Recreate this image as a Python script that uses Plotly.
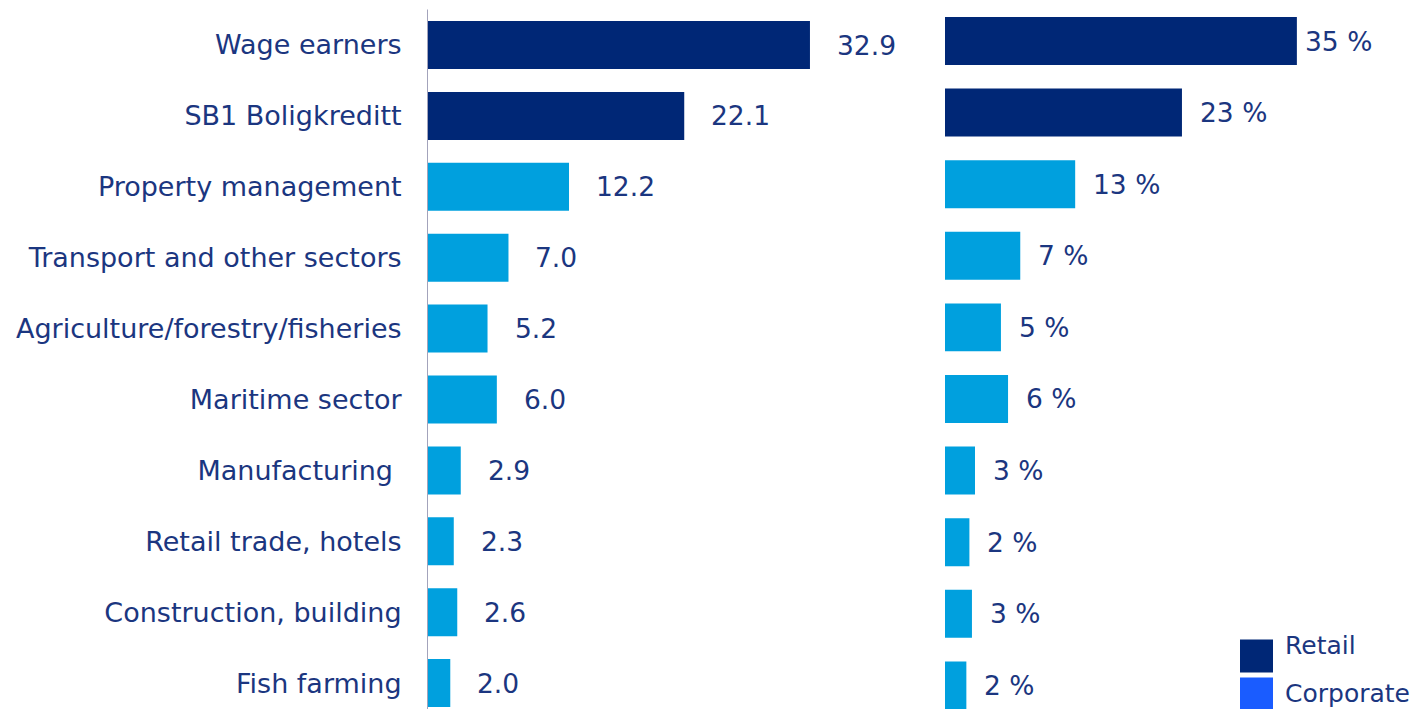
import plotly.graph_objects as go

categories = ["Wage earners", "SB1 Boligkreditt", "Property management",
              "Transport and other sectors", "Agriculture/forestry/fisheries",
              "Maritime sector", "Manufacturing\u00a0", "Retail trade, hotels",
              "Construction, building", "Fish farming"]
segments = ["Retail", "Retail", "Corporate", "Corporate", "Corporate",
            "Corporate", "Corporate", "Corporate", "Corporate", "Corporate"]
loans_bn = [32.9, 22.1, 12.2, 7.0, 5.2, 6.0, 2.9, 2.3, 2.6, 2.0]
share_pct = [34.6, 23.3, 12.8, 7.4, 5.5, 6.2, 2.95, 2.4, 2.65, 2.1]
share_labels = ["35 %", "23 %", "13 %", "7 %", "5 %", "6 %", "3 %", "2 %", "3 %", "2 %"]

NAVY = "#002776"
CYAN = "#00a0de"
LEG_CORP = "#1a5cff"
TXT = "#1b3680"
FONT = "DejaVu Sans"
seg_color = {"Retail": NAVY, "Corporate": CYAN}
colors = [seg_color[s] for s in segments]

# page body has an 8px margin: the figure is placed at (8, 8)
OFF = 8
W, H = 1420 - OFF, 709 - OFF


def px_x(p):
    return (p - OFF) / W


def px_y(p):
    return 1 - (p - OFF) / H


fig = go.Figure()
fig.add_trace(go.Bar(x=loans_bn, y=categories, orientation="h",
                     marker=dict(color=colors, line=dict(width=0)),
                     xaxis="x", yaxis="y", showlegend=False, width=0.677))
fig.add_trace(go.Bar(x=share_pct, y=categories, orientation="h",
                     marker=dict(color=colors, line=dict(width=0)),
                     xaxis="x2", yaxis="y2", showlegend=False, width=0.67))

ann = []
for c, v in zip(categories, loans_bn):
    ann.append(dict(x=v, y=c, xref="x", yref="y", text=f"{v:.1f}",
                    xanchor="left", yanchor="middle", xshift=25, showarrow=False,
                    font=dict(family=FONT, size=26.5, color=TXT)))
for i, (c, v, t) in enumerate(zip(categories, share_pct, share_labels)):
    ann.append(dict(x=v, y=c, xref="x2", yref="y2", text=t,
                    xanchor="left", yanchor="middle", xshift=6 if i == 0 else 16,
                    showarrow=False,
                    font=dict(family=FONT, size=26.5, color=TXT)))

# manual legend: (name, colour, square centre y, text centre y) in page pixels
leg = [("Retail", NAVY, 656, 645), ("Corporate", LEG_CORP, 694, 693)]
shapes = []
for name, col, yc, ty in leg:
    shapes.append(dict(type="rect", xref="paper", yref="paper",
                       x0=px_x(1240), x1=px_x(1273),
                       y0=px_y(yc + 16.5), y1=px_y(yc - 16.5),
                       fillcolor=col, line=dict(width=0)))
    ann.append(dict(x=px_x(1283), y=px_y(ty), xref="paper", yref="paper",
                    text=name, xanchor="left", yanchor="middle", showarrow=False,
                    font=dict(family=FONT, size=25, color=TXT)))

# axis line of the left panel
shapes.append(dict(type="line", xref="x", yref="y", x0=0, x1=0, y0=-0.5, y1=9.4,
                   line=dict(color="#a3a3bb", width=2)))

fig.update_layout(
    width=W, height=H, margin=dict(l=0, r=0, t=0, b=0),
    paper_bgcolor="white", plot_bgcolor="white",
    font=dict(family=FONT, size=26, color=TXT),
    xaxis=dict(domain=[px_x(427), px_x(427 + 40 * 11.64)], range=[0, 40],
               visible=False, fixedrange=True),
    yaxis=dict(type="category", range=[9.365, (OFF - 45) / 70.9], showgrid=False,
               zeroline=False, showline=False, ticks="outside", ticklen=19,
               tickcolor="rgba(0,0,0,0)",
               tickfont=dict(family=FONT, size=27, color=TXT)),
    xaxis2=dict(domain=[px_x(945), px_x(945 + 40 * 10.17)], range=[0, 40],
                visible=False, anchor="y2"),
    yaxis2=dict(type="category", range=[9.33, (OFF - 41) / 71.6], anchor="x2",
                visible=False),
    annotations=ann, shapes=shapes, bargap=0.33,
)

fig.write_html(
    "out.html",
    post_script="document.documentElement.style.overflow='hidden';"
                "document.body.style.overflow='hidden';",
)
